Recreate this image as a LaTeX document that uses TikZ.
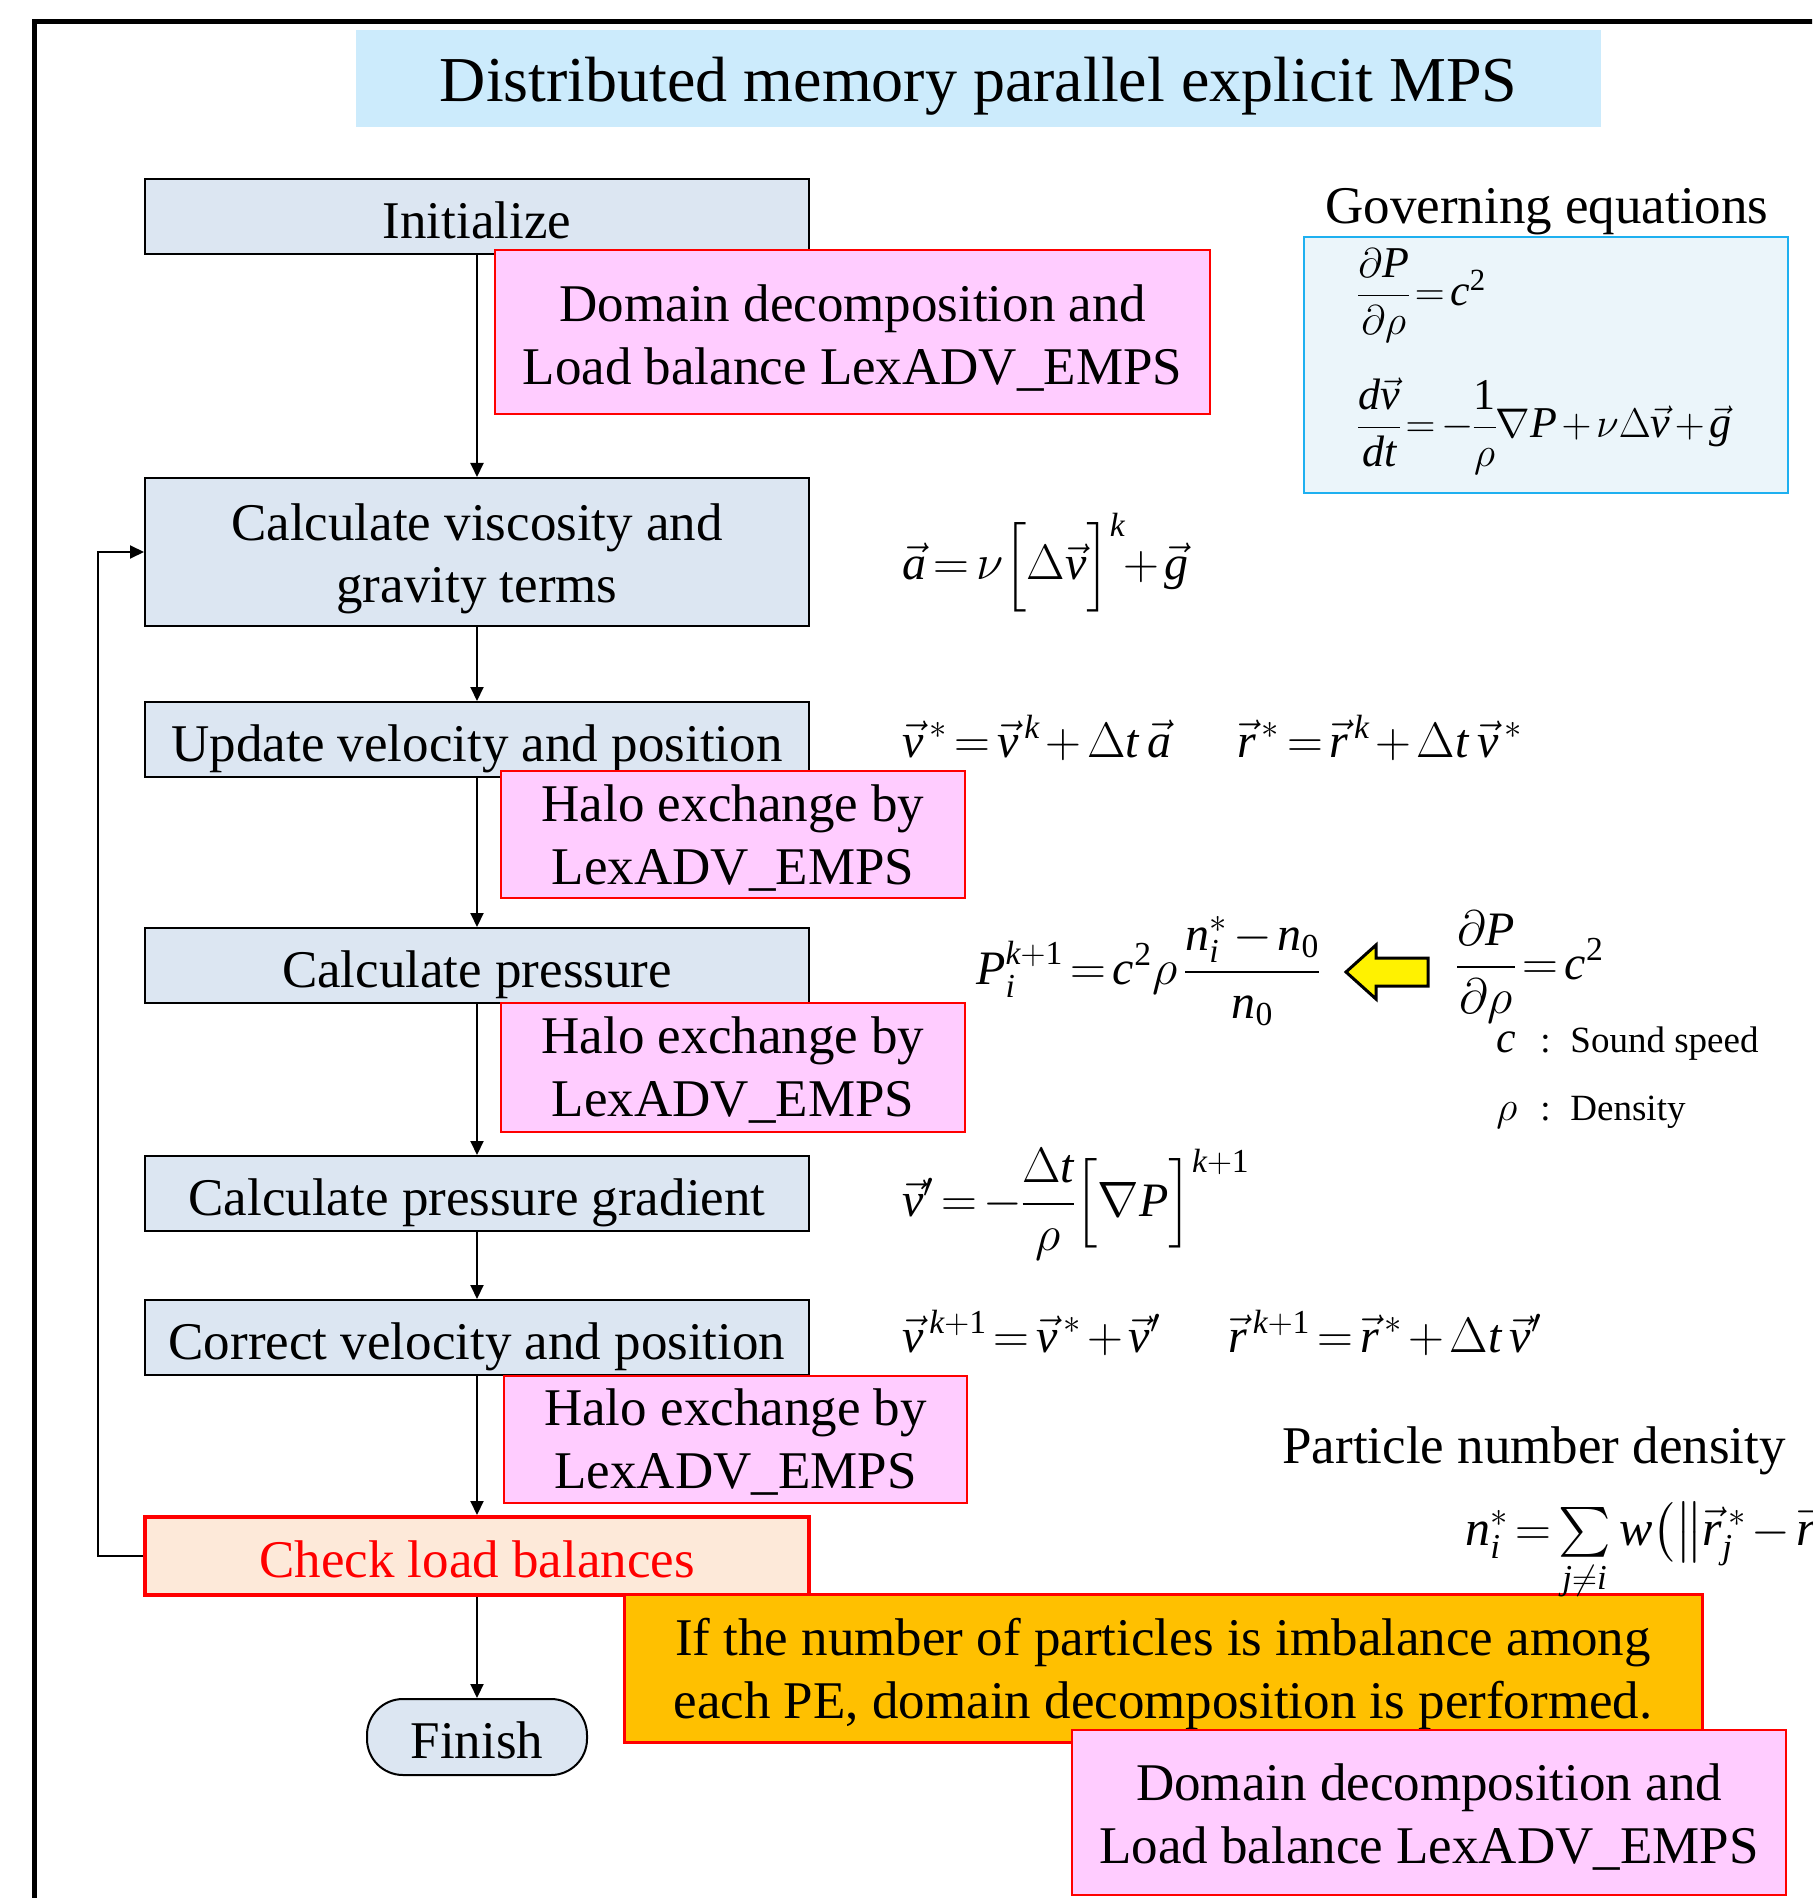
\documentclass[tikz,border=0pt]{standalone}
\usepackage{amsmath}
\usepackage[no-math]{fontspec}
\setmainfont{Liberation Serif}
\DeclareSymbolFont{tletters}{TU}{\rmdefault}{m}{it}
\DeclareSymbolFont{tdigits}{TU}{\rmdefault}{m}{n}
\DeclareMathSymbol{a}{\mathalpha}{tletters}{`a}
\DeclareMathSymbol{c}{\mathalpha}{tletters}{`c}
\DeclareMathSymbol{d}{\mathalpha}{tletters}{`d}
\DeclareMathSymbol{g}{\mathalpha}{tletters}{`g}
\DeclareMathSymbol{i}{\mathalpha}{tletters}{`i}
\DeclareMathSymbol{j}{\mathalpha}{tletters}{`j}
\DeclareMathSymbol{k}{\mathalpha}{tletters}{`k}
\DeclareMathSymbol{n}{\mathalpha}{tletters}{`n}
\DeclareMathSymbol{r}{\mathalpha}{tletters}{`r}
\DeclareMathSymbol{t}{\mathalpha}{tletters}{`t}
\DeclareMathSymbol{v}{\mathalpha}{tletters}{`v}
\DeclareMathSymbol{w}{\mathalpha}{tletters}{`w}
\DeclareMathSymbol{P}{\mathalpha}{tletters}{`P}
\DeclareMathSymbol{0}{\mathalpha}{tdigits}{`0}
\DeclareMathSymbol{1}{\mathalpha}{tdigits}{`1}
\DeclareMathSymbol{2}{\mathalpha}{tdigits}{`2}
\thickmuskip=2.5mu plus 1mu
\medmuskip=2mu plus 1mu
\nulldelimiterspace=0pt
\usetikzlibrary{arrows.meta}
\definecolor{titlefill}{HTML}{CCEBFC}
\definecolor{stepfill}{HTML}{DCE6F2}
\definecolor{pinkfill}{HTML}{FFCCFF}
\definecolor{geqfill}{HTML}{EBF5FA}
\definecolor{geqline}{HTML}{1EB0F0}
\definecolor{checkfill}{HTML}{FDE9D9}
\definecolor{orangefill}{HTML}{FFC000}
\newcommand\mainsz{\fontsize{26.5}{31.5}\selectfont}
\newcommand\titlesz{\fontsize{32}{38}\selectfont}
\newcommand\eqsz{\fontsize{24}{29}\selectfont}
\newcommand\boxeqsz{\fontsize{22}{26}\selectfont}
\newcommand\smallsz{\fontsize{18.5}{22}\selectfont}
\tikzset{
  boxbase/.style={inner sep=0pt, font=\mainsz, align=center},
  oneline/.style={text height=23.8pt, text depth=1.9pt},
  twolines/.style={text height=#1, text depth=1.5pt},
  stepbox/.style={boxbase, draw=black, line width=1pt, fill=stepfill, minimum width=332pt,
    minimum height=37.5pt},
  pinkbox/.style={boxbase, draw=red, line width=1.2pt, fill=pinkfill},
  arr/.style={-{Triangle[length=7pt,width=6.5pt]}, line width=1pt},
  eqn/.style={anchor=base west, inner sep=0pt, font=\eqsz},
  plain/.style={anchor=base west, inner sep=0pt, font=\mainsz},
}
\begin{document}
\begin{tikzpicture}[x=0.5pt,y=-0.5pt]
\useasboundingbox (0,0) rectangle (1812,1898);
\clip (0,0) rectangle (1812,1898);
% outer frame
\draw[line width=2.5pt] (34.5,2000) -- (34.5,21.5) -- (1900,21.5);
% title
\node[fill=titlefill, minimum width=622.5pt, minimum height=48.5pt, inner sep=0pt, font=\titlesz,
  text height=24pt, text depth=0.5pt]
  (title) at (978.5,78.5) {Distributed memory parallel explicit MPS};
% flow boxes
\node[stepbox, oneline] (init) at (477,216.5) {Initialize};
\node[stepbox, twolines=52.5pt, minimum height=74pt] (visc) at (477,552) {Calculate viscosity and\\gravity terms};
\node[stepbox, oneline] (upd) at (477,739.5) {Update velocity and position};
\node[stepbox, oneline] (pres) at (477,965.5) {Calculate pressure};
\node[stepbox, oneline] (grad) at (477,1193.5) {Calculate pressure gradient};
\node[stepbox, oneline] (corr) at (477,1337.5) {Correct velocity and position};
\node[stepbox, oneline, draw=red, line width=2pt, fill=checkfill, text=red, minimum height=39pt] (check) at (477,1556) {Check load balances};
\node[stepbox, oneline, minimum width=110pt, minimum height=38pt, rounded corners=18pt] (finish) at (477,1737) {Finish};
% connectors
\draw[arr] (init) -- (visc);
\draw[arr] (visc) -- (upd);
\draw[arr] (upd) -- (pres);
\draw[arr] (pres) -- (grad);
\draw[arr] (grad) -- (corr);
\draw[arr] (corr) -- (check);
\draw[arr] (check) -- (finish);
\draw[arr] (check.west) -- ++(-45,0) |- (visc.west);
% side boxes
\node[pinkbox, twolines=54.5pt, minimum width=357.5pt, minimum height=82pt] (dd1) at (852.5,332) {Domain decomposition and\\Load balance LexADV\_EMPS};
\node[pinkbox, twolines=51pt, minimum width=232pt, minimum height=63.5pt] (halo1) at (733,834.5) {Halo exchange by\\LexADV\_EMPS};
\node[pinkbox, twolines=50pt, minimum width=232pt, minimum height=64.5pt] (halo2) at (733,1067.5) {Halo exchange by\\LexADV\_EMPS};
\node[pinkbox, twolines=50pt, minimum width=231.5pt, minimum height=63.5pt] (halo3) at (735.5,1439.5) {Halo exchange by\\LexADV\_EMPS};
\node[boxbase, twolines=51.5pt, draw=red, line width=1.5pt, fill=orangefill,
  minimum width=539pt, minimum height=74pt] (imb) at (1163,1668)
  {If the number of particles is imbalance among\\each PE, domain decomposition is performed.};
\node[pinkbox, twolines=52pt, minimum width=357pt, minimum height=82.5pt] (dd2) at (1429,1812.5) {Domain decomposition and\\Load balance LexADV\_EMPS};
% governing equations
\node[anchor=base, inner sep=0pt, font=\mainsz] (geqlabel) at (1547,224) {Governing equations};
\node[draw=geqline, line width=1.2pt, fill=geqfill, minimum width=242pt, minimum height=128pt, inner sep=0pt] (geqbox) at (1546,365) {};
\node[eqn, font=\boxeqsz] (geq1) at (1358,306) {$\dfrac{\partial P}{\partial\rho}=c^{2}$};
\node[eqn, font=\boxeqsz] (geq2) at (1358,438) {$\dfrac{d\vec v}{dt}=-\dfrac{1}{\rho}\nabla P+\nu\Delta\vec v+\vec g$};
% step equations
\node[eqn] (eqa) at (902,580) {$\vec a=\nu\Bigl[\Delta\vec v\Bigr]^{k}\!+\vec g$};
\node[eqn] (eqv) at (902,757) {$\vec v^{\,*}=\vec v^{\,k}+\Delta t\,\vec a$};
\node[eqn] (eqr) at (1237,757) {$\vec r^{\,*}=\vec r^{\,k}+\Delta t\,\vec v^{\,*}$};
\node[eqn] (eqp) at (976,984) {$P_i^{k+1}=c^{2}\rho\,\dfrac{n_i^{*}-n_0}{n_0}$};
\node[eqn] (eqdp) at (1457,979) {$\dfrac{\partial P}{\partial\rho}=c^{2}$};
\node[eqn, font=\boxeqsz] (symc) at (1496,1052) {$c$};
\node[anchor=base west, inner sep=0pt, font=\smallsz] (colc) at (1540,1052) {:};
\node[anchor=base west, inner sep=0pt, font=\smallsz] (txtc) at (1570,1052) {Sound speed};
\node[eqn, font=\boxeqsz] (symr) at (1496,1120) {$\rho$};
\node[anchor=base west, inner sep=0pt, font=\smallsz] (colr) at (1540,1120) {:};
\node[anchor=base west, inner sep=0pt, font=\smallsz] (txtr) at (1570,1120) {Density};
\node[eqn] (eqvp) at (902,1216) {$\vec v'=-\dfrac{\Delta t}{\rho}\Bigl[\nabla P\Bigr]^{k+1}$};
\node[eqn] (eqvk) at (902,1352) {$\vec v^{\,k+1}=\vec v^{\,*}+\vec v'$};
\node[eqn] (eqrk) at (1228,1352) {$\vec r^{\,k+1}=\vec r^{\,*}+\Delta t\,\vec v'$};
% particle number density
\node[plain] (pndlabel) at (1282,1463) {Particle number density};
\node[eqn, font=\fontsize{25}{30}\selectfont] (eqn) at (1465,1545) {$n_i^{*}=\sum\limits_{j\neq i}w\bigl(\bigl\|\vec r_j^{\,*}-\vec r_i^{\,*}\bigr\|\bigr)$};
% yellow arrow
\draw[fill=yellow, line width=1.5pt, line join=miter]
  (1346,972) -- (1376,945) -- (1376,958) -- (1428,958) -- (1428,986) -- (1376,986) -- (1376,999) -- cycle;
\end{tikzpicture}
\end{document}
